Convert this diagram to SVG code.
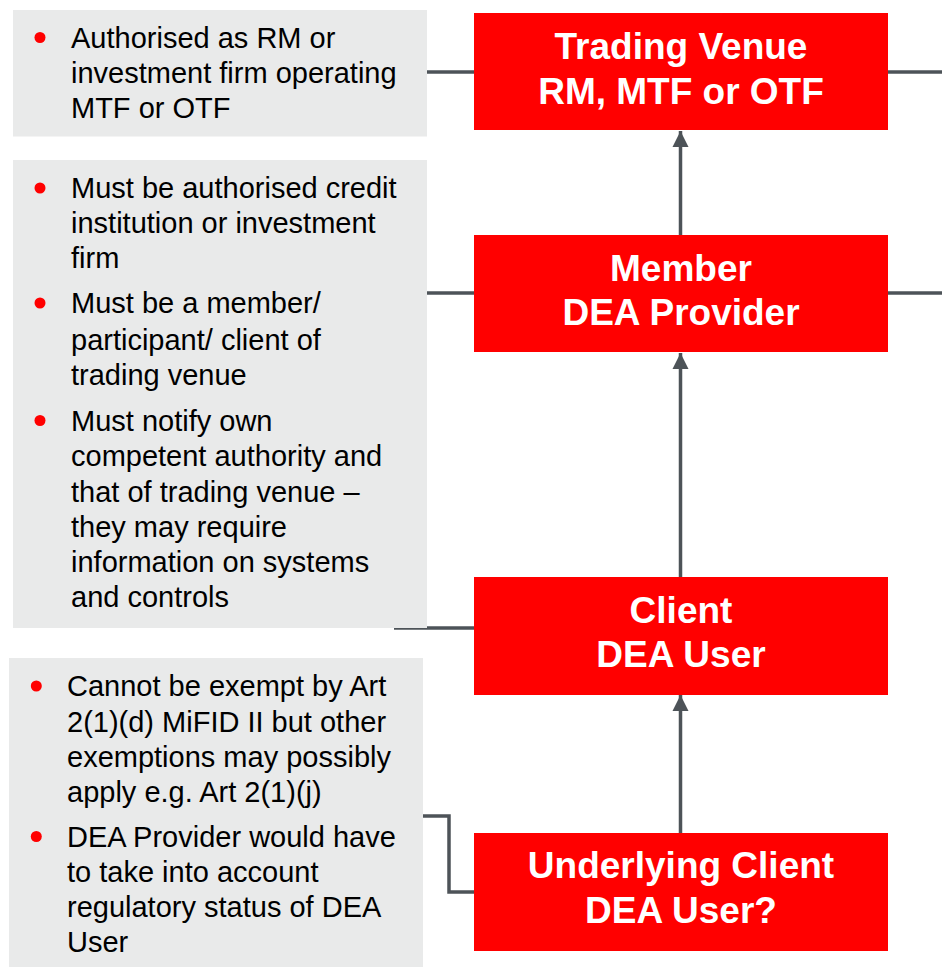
<svg xmlns="http://www.w3.org/2000/svg" width="942" height="967" viewBox="0 0 942 967">
<style>
.panel{fill:#e9eaea}
.node{fill:#ff0000}
.t{font-family:"Liberation Sans",Arial,sans-serif;font-size:29px;fill:#000}
.h{font-family:"Liberation Sans",Arial,sans-serif;font-size:37px;font-weight:bold;fill:#fff;text-anchor:middle}
.dot{fill:#ff0000}
.c{stroke:#4d5358;stroke-width:3.5;fill:none}
</style>
<defs>
<marker id="ah" markerUnits="userSpaceOnUse" markerWidth="18" markerHeight="18" viewBox="0 0 18 18" refX="16" refY="9" orient="auto">
<path d="M0,1 L16,9 L0,17 Z" fill="#4d5358"/>
</marker>
</defs>
<rect width="942" height="967" fill="#fff"/>
<g id="connectors">
<line class="c" x1="427" y1="72" x2="474" y2="72"/>
<line class="c" x1="888" y1="72" x2="942" y2="72"/>
<line class="c" x1="427" y1="293" x2="474" y2="293"/>
<line class="c" x1="888" y1="293" x2="942" y2="293"/>
<line class="c" x1="394" y1="628" x2="474" y2="628"/>
<polyline class="c" points="423,816 449,816 449,892 474,892"/>
<line class="c" x1="680.5" y1="235" x2="680.5" y2="131" marker-end="url(#ah)"/>
<line class="c" x1="680.5" y1="577" x2="680.5" y2="353" marker-end="url(#ah)"/>
<line class="c" x1="680.5" y1="833" x2="680.5" y2="695" marker-end="url(#ah)"/>
</g>
<g id="note-venue">
<rect class="panel" x="13" y="10" width="414" height="126.5"/>
<circle class="dot" cx="40" cy="37.5" r="5.5"/>
<text class="t" x="71" y="48.3">Authorised as RM or</text>
<text class="t" x="71" y="83">investment firm operating</text>
<text class="t" x="71" y="118.3">MTF or OTF</text>
</g>
<g id="note-member">
<rect class="panel" x="13" y="160" width="414" height="468"/>
<circle class="dot" cx="40" cy="188" r="5.5"/>
<text class="t" x="71" y="198.3">Must be authorised credit</text>
<text class="t" x="71" y="233.3">institution or investment</text>
<text class="t" x="71" y="268.3">firm</text>
<circle class="dot" cx="40" cy="303" r="5.5"/>
<text class="t" x="71" y="313.3">Must be a member/</text>
<text class="t" x="71" y="350">participant/ client of</text>
<text class="t" x="71" y="385">trading venue</text>
<circle class="dot" cx="40" cy="420.5" r="5.5"/>
<text class="t" x="71" y="431">Must notify own</text>
<text class="t" x="71" y="466">competent authority and</text>
<text class="t" x="71" y="501.7">that of trading venue –</text>
<text class="t" x="71" y="536.7">they may require</text>
<text class="t" x="71" y="571.7">information on systems</text>
<text class="t" x="71" y="606.7">and controls</text>
</g>
<g id="note-underlying">
<rect class="panel" x="9" y="658" width="414" height="309"/>
<circle class="dot" cx="36.3" cy="686" r="5.5"/>
<text class="t" x="67" y="696">Cannot be exempt by Art</text>
<text class="t" x="67" y="731.7">2(1)(d) MiFID II but other</text>
<text class="t" x="67" y="766.7">exemptions may possibly</text>
<text class="t" x="67" y="801.7">apply e.g. Art 2(1)(j)</text>
<circle class="dot" cx="36.3" cy="836.5" r="5.5"/>
<text class="t" x="67" y="846.7">DEA Provider would have</text>
<text class="t" x="67" y="881.7">to take into account</text>
<text class="t" x="67" y="916.7">regulatory status of DEA</text>
<text class="t" x="67" y="951.7">User</text>
</g>
<g id="node-venue">
<rect class="node" x="474" y="13" width="414" height="117"/>
<text class="h" x="681" y="59.3">Trading Venue</text>
<text class="h" x="681" y="104">RM, MTF or OTF</text>
</g>
<g id="node-member">
<rect class="node" x="474" y="235" width="414" height="117"/>
<text class="h" x="681" y="280.7">Member</text>
<text class="h" x="681" y="325">DEA Provider</text>
</g>
<g id="node-client">
<rect class="node" x="474" y="577" width="414" height="118"/>
<text class="h" x="681" y="622.7">Client</text>
<text class="h" x="681" y="667.3">DEA User</text>
</g>
<g id="node-underlying">
<rect class="node" x="474" y="833" width="414" height="118"/>
<text class="h" x="681" y="878.3">Underlying Client</text>
<text class="h" x="681" y="922.7">DEA User?</text>
</g>
</svg>
